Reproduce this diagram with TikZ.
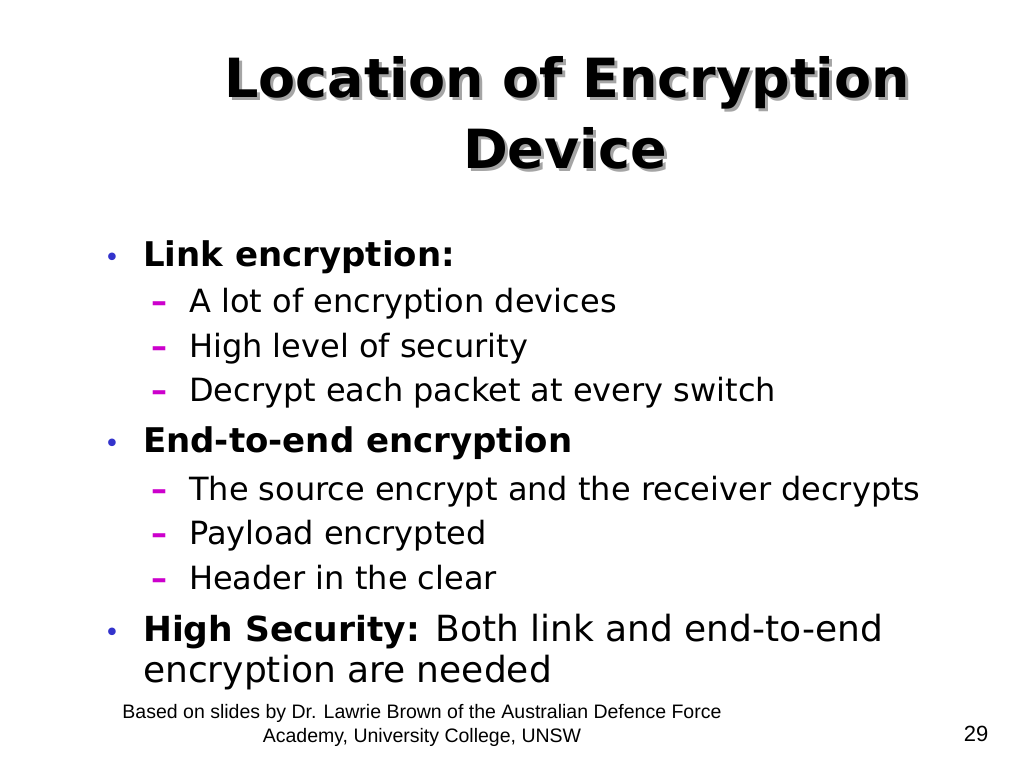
\documentclass[tikz,border=0pt]{standalone}
\usepackage{fontspec}
\setmainfont{DejaVu Sans}
\newfontfamily\footfont{Liberation Sans}
\usetikzlibrary{positioning}
\definecolor{bulletblue}{RGB}{51,51,204}
\definecolor{dashpink}{RGB}{204,0,204}
\definecolor{shadowgray}{RGB}{165,165,165}

\begin{document}
\begin{tikzpicture}[
    x=1pt, y=-1pt,
    title/.style={
		font=\fontsize{54}{64}\selectfont\bfseries,
		inner sep=0pt,
		anchor=base
	},
	point/.style={
		font=\fontsize{36}{42}\selectfont,
		inner sep=0pt,
		anchor=base west
	},
	subpoint/.style={
		font=\fontsize{32}{38}\selectfont,
		inner sep=0pt,
		anchor=base west
	},
	dot/.style={
		font=\fontsize{26}{30}\selectfont,
		text=bulletblue,
		inner sep=0pt
	},
	subdash/.style={
		font=\fontsize{32}{38}\selectfont\bfseries,
		text=dashpink,
		inner sep=0pt
	},
	footer/.style={
		font=\footfont\fontsize{19.5}{23}\selectfont,
		inner sep=0pt,
		anchor=base
	}
  ]
  % page
  \fill [white] (0,0) rectangle (1024,768);

  % title with its shadow
  \node [title, text=shadowgray] (titleshadow1) at (570,100) {Location of Encryption};
  \node [title, text=shadowgray] (titleshadow2) at (568,171) {Device};
  \node [title] (title1) at (567,97) {Location of Encryption};
  \node [title] (title2) at (565,168) {Device};

  % first point
  \node [point] (link) at (143,266) {\fontsize{34}{40}\selectfont\bfseries Link encryption:};
  \node [dot, left=23pt of link.base west, anchor=base east] (linkdot) {•};
  \node [subpoint] (link1) at (189,312) {A lot of encryption devices};
  \node [subpoint] (link2) at (189,357) {High level of security};
  \node [subpoint] (link3) at (189,401) {Decrypt each packet at every switch};
  \foreach \s in {link1,link2,link3}
    \node [subdash, left=21pt of \s.base west, anchor=base east] (\s dash) {–};

  % second point
  \node [point] (endtoend) at (143,452) {\fontsize{34}{40}\selectfont\bfseries End-to-end encryption};
  \node [dot, left=23pt of endtoend.base west, anchor=base east] (endtoenddot) {•};
  \node [subpoint] (endtoend1) at (189,500) {The source encrypt and the receiver decrypts};
  \node [subpoint] (endtoend2) at (189,544) {Payload encrypted};
  \node [subpoint] (endtoend3) at (189,589) {Header in the clear};
  \foreach \s in {endtoend1,endtoend2,endtoend3}
    \node [subdash, left=21pt of \s.base west, anchor=base east] (\s dash) {–};

  % third point
  \node [point] (high) at (143,641) {{\fontsize{34.5}{40}\selectfont\bfseries High Security:} Both link and end-to-end};
  \node [dot, left=23pt of high.base west, anchor=base east] (highdot) {•};
  \node [point] (high2) at (143,682) {encryption are needed};

  % footer
  \node [footer] (credit1) at (422,718) {Based on slides by Dr. Lawrie Brown of the Australian Defence Force};
  \node [footer] (credit2) at (422,742) {Academy, University College, UNSW};
  \node [footer, font=\footfont\fontsize{22}{26}\selectfont] (pagenum) at (976,741) {29};
\end{tikzpicture}
\end{document}
